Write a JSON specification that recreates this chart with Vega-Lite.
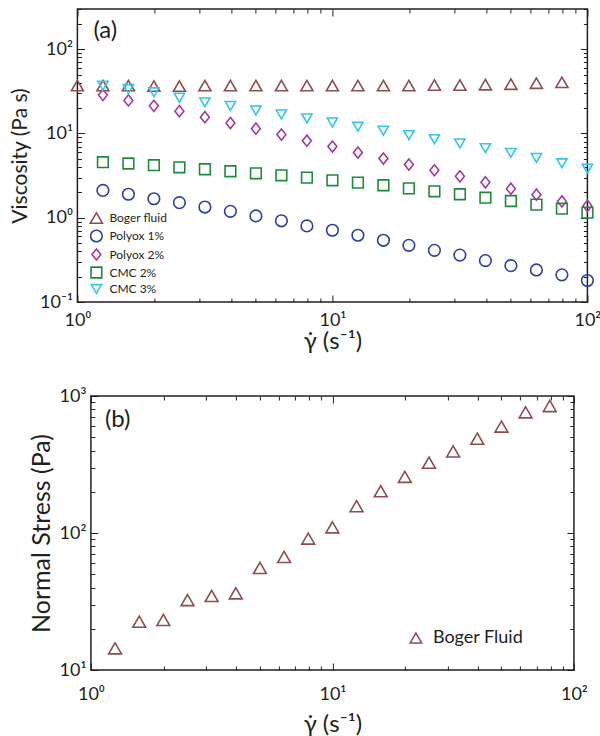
{
  "$schema": "https://vega.github.io/schema/vega-lite/v6.json",
  "padding": {"left": 8, "top": 7, "right": 0, "bottom": 0},
  "background": "white",
  "config": {
    "font": "Lato",
    "view": {"stroke": "#231f20", "strokeWidth": 1.5},
    "axis": {"grid": false, "domain": false, "labelColor": "#231f20", "titleColor": "#231f20", "tickColor": "#231f20", "labelFont": "Lato", "titleFont": "Lato", "titleFontWeight": "normal", "labelFontSize": 18, "tickWidth": 1, "labelOverlap": false, "labelFlush": false, "labelBound": false},
    "legend": {"labelColor": "#231f20", "labelFont": "Lato", "padding": 0},
    "title": {"color": "#231f20", "font": "Lato", "fontWeight": "normal"}
  },
  "resolve": {"scale": {"color": "independent", "shape": "independent", "size": "independent"}, "legend": {"color": "independent", "shape": "independent", "size": "independent"}},
  "vconcat": [
    {
      "width": 510,
      "height": 293,
      "title": {"text": "(a)", "anchor": "start", "frame": "group", "orient": "top", "offset": -34, "dx": 16, "fontSize": 24},
      "data": {"values": [
        {"fluid": "Boger fluid", "rate": 1, "visc": 37},
        {"fluid": "Boger fluid", "rate": 1.259, "visc": 37},
        {"fluid": "Boger fluid", "rate": 1.585, "visc": 37},
        {"fluid": "Boger fluid", "rate": 1.995, "visc": 36.5},
        {"fluid": "Boger fluid", "rate": 2.512, "visc": 36.5},
        {"fluid": "Boger fluid", "rate": 3.162, "visc": 37},
        {"fluid": "Boger fluid", "rate": 3.981, "visc": 37},
        {"fluid": "Boger fluid", "rate": 5.012, "visc": 37},
        {"fluid": "Boger fluid", "rate": 6.31, "visc": 37},
        {"fluid": "Boger fluid", "rate": 7.943, "visc": 37},
        {"fluid": "Boger fluid", "rate": 10, "visc": 37},
        {"fluid": "Boger fluid", "rate": 12.59, "visc": 37},
        {"fluid": "Boger fluid", "rate": 15.85, "visc": 37},
        {"fluid": "Boger fluid", "rate": 19.95, "visc": 37},
        {"fluid": "Boger fluid", "rate": 25.12, "visc": 37.5},
        {"fluid": "Boger fluid", "rate": 31.62, "visc": 37.5},
        {"fluid": "Boger fluid", "rate": 39.81, "visc": 38},
        {"fluid": "Boger fluid", "rate": 50.12, "visc": 38.5},
        {"fluid": "Boger fluid", "rate": 63.1, "visc": 39.5},
        {"fluid": "Boger fluid", "rate": 79.43, "visc": 40.5},
        {"fluid": "Polyox 1%", "rate": 1.259, "visc": 2.11},
        {"fluid": "Polyox 1%", "rate": 1.585, "visc": 1.9},
        {"fluid": "Polyox 1%", "rate": 1.995, "visc": 1.68},
        {"fluid": "Polyox 1%", "rate": 2.512, "visc": 1.51},
        {"fluid": "Polyox 1%", "rate": 3.162, "visc": 1.34},
        {"fluid": "Polyox 1%", "rate": 3.981, "visc": 1.19},
        {"fluid": "Polyox 1%", "rate": 5.012, "visc": 1.05},
        {"fluid": "Polyox 1%", "rate": 6.31, "visc": 0.92},
        {"fluid": "Polyox 1%", "rate": 7.943, "visc": 0.8},
        {"fluid": "Polyox 1%", "rate": 10, "visc": 0.71},
        {"fluid": "Polyox 1%", "rate": 12.59, "visc": 0.62},
        {"fluid": "Polyox 1%", "rate": 15.85, "visc": 0.54},
        {"fluid": "Polyox 1%", "rate": 19.95, "visc": 0.47},
        {"fluid": "Polyox 1%", "rate": 25.12, "visc": 0.41},
        {"fluid": "Polyox 1%", "rate": 31.62, "visc": 0.36},
        {"fluid": "Polyox 1%", "rate": 39.81, "visc": 0.31},
        {"fluid": "Polyox 1%", "rate": 50.12, "visc": 0.27},
        {"fluid": "Polyox 1%", "rate": 63.1, "visc": 0.24},
        {"fluid": "Polyox 1%", "rate": 79.43, "visc": 0.21},
        {"fluid": "Polyox 1%", "rate": 100, "visc": 0.18},
        {"fluid": "Polyox 2%", "rate": 1.259, "visc": 28.6},
        {"fluid": "Polyox 2%", "rate": 1.585, "visc": 24.7},
        {"fluid": "Polyox 2%", "rate": 1.995, "visc": 21.3},
        {"fluid": "Polyox 2%", "rate": 2.512, "visc": 18.4},
        {"fluid": "Polyox 2%", "rate": 3.162, "visc": 15.6},
        {"fluid": "Polyox 2%", "rate": 3.981, "visc": 13.3},
        {"fluid": "Polyox 2%", "rate": 5.012, "visc": 11.4},
        {"fluid": "Polyox 2%", "rate": 6.31, "visc": 9.7},
        {"fluid": "Polyox 2%", "rate": 7.943, "visc": 8.2},
        {"fluid": "Polyox 2%", "rate": 10, "visc": 7.0},
        {"fluid": "Polyox 2%", "rate": 12.59, "visc": 5.94},
        {"fluid": "Polyox 2%", "rate": 15.85, "visc": 5.04},
        {"fluid": "Polyox 2%", "rate": 19.95, "visc": 4.27},
        {"fluid": "Polyox 2%", "rate": 25.12, "visc": 3.66},
        {"fluid": "Polyox 2%", "rate": 31.62, "visc": 3.1},
        {"fluid": "Polyox 2%", "rate": 39.81, "visc": 2.63},
        {"fluid": "Polyox 2%", "rate": 50.12, "visc": 2.21},
        {"fluid": "Polyox 2%", "rate": 63.1, "visc": 1.88},
        {"fluid": "Polyox 2%", "rate": 79.43, "visc": 1.56},
        {"fluid": "Polyox 2%", "rate": 100, "visc": 1.38},
        {"fluid": "CMC 2%", "rate": 1.259, "visc": 4.56},
        {"fluid": "CMC 2%", "rate": 1.585, "visc": 4.4},
        {"fluid": "CMC 2%", "rate": 1.995, "visc": 4.2},
        {"fluid": "CMC 2%", "rate": 2.512, "visc": 3.97},
        {"fluid": "CMC 2%", "rate": 3.162, "visc": 3.76},
        {"fluid": "CMC 2%", "rate": 3.981, "visc": 3.56},
        {"fluid": "CMC 2%", "rate": 5.012, "visc": 3.37},
        {"fluid": "CMC 2%", "rate": 6.31, "visc": 3.19},
        {"fluid": "CMC 2%", "rate": 7.943, "visc": 2.99},
        {"fluid": "CMC 2%", "rate": 10, "visc": 2.78},
        {"fluid": "CMC 2%", "rate": 12.59, "visc": 2.61},
        {"fluid": "CMC 2%", "rate": 15.85, "visc": 2.43},
        {"fluid": "CMC 2%", "rate": 19.95, "visc": 2.23},
        {"fluid": "CMC 2%", "rate": 25.12, "visc": 2.06},
        {"fluid": "CMC 2%", "rate": 31.62, "visc": 1.9},
        {"fluid": "CMC 2%", "rate": 39.81, "visc": 1.73},
        {"fluid": "CMC 2%", "rate": 50.12, "visc": 1.58},
        {"fluid": "CMC 2%", "rate": 63.1, "visc": 1.43},
        {"fluid": "CMC 2%", "rate": 79.43, "visc": 1.28},
        {"fluid": "CMC 2%", "rate": 100, "visc": 1.15},
        {"fluid": "CMC 3%", "rate": 1.259, "visc": 36.9},
        {"fluid": "CMC 3%", "rate": 1.585, "visc": 33.7},
        {"fluid": "CMC 3%", "rate": 1.995, "visc": 30.8},
        {"fluid": "CMC 3%", "rate": 2.512, "visc": 26.6},
        {"fluid": "CMC 3%", "rate": 3.162, "visc": 23.4},
        {"fluid": "CMC 3%", "rate": 3.981, "visc": 21.2},
        {"fluid": "CMC 3%", "rate": 5.012, "visc": 18.8},
        {"fluid": "CMC 3%", "rate": 6.31, "visc": 16.8},
        {"fluid": "CMC 3%", "rate": 7.943, "visc": 15.1},
        {"fluid": "CMC 3%", "rate": 10, "visc": 13.5},
        {"fluid": "CMC 3%", "rate": 12.59, "visc": 12.0},
        {"fluid": "CMC 3%", "rate": 15.85, "visc": 10.8},
        {"fluid": "CMC 3%", "rate": 19.95, "visc": 9.55},
        {"fluid": "CMC 3%", "rate": 25.12, "visc": 8.57},
        {"fluid": "CMC 3%", "rate": 31.62, "visc": 7.61},
        {"fluid": "CMC 3%", "rate": 39.81, "visc": 6.69},
        {"fluid": "CMC 3%", "rate": 50.12, "visc": 5.89},
        {"fluid": "CMC 3%", "rate": 63.1, "visc": 5.13},
        {"fluid": "CMC 3%", "rate": 79.43, "visc": 4.43},
        {"fluid": "CMC 3%", "rate": 100, "visc": 3.83}
      ]},
      "layer": [
        {
          "mark": {"type": "point", "filled": false, "strokeWidth": 1.6, "opacity": 1},
          "encoding": {
            "x": {"field": "rate", "type": "quantitative",
              "scale": {"type": "log", "domain": [1, 100], "nice": false},
              "axis": {"orient": "bottom", "title": "γ̇ (s⁻¹)", "titleFontSize": 24, "titlePadding": 0,
                "values": [1, 10, 100], "offset": -7, "tickSize": 7, "labelPadding": 9,
                "labelExpr": "datum.value==1?'10⁰':datum.value==10?'10¹':'10²'"}},
            "y": {"field": "visc", "type": "quantitative",
              "scale": {"type": "log", "domain": [0.1, 300], "nice": false},
              "axis": {"orient": "left", "title": "Viscosity (Pa s)", "titleFontSize": 21, "titlePadding": 9,
                "values": [0.1, 1, 10, 100], "offset": -7, "tickSize": 7, "labelPadding": 5,
                "labelExpr": "datum.value==0.1?'10⁻¹':datum.value==1?'10⁰':datum.value==10?'10¹':'10²'"}},
            "color": {"field": "fluid", "type": "nominal",
              "scale": {"domain": ["Boger fluid", "Polyox 1%", "Polyox 2%", "CMC 2%", "CMC 3%"], "range": ["#8c4f4f", "#2e3f9c", "#a33a9c", "#1e8a3c", "#35c4ef"]},
              "legend": {"title": null, "orient": "none", "legendX": 12, "legendY": 202, "labelFontSize": 12, "rowPadding": -1, "symbolStrokeWidth": 1.6, "labelOffset": 6}},
            "shape": {"field": "fluid", "type": "nominal",
              "scale": {"domain": ["Boger fluid", "Polyox 1%", "Polyox 2%", "CMC 2%", "CMC 3%"], "range": ["triangle-up", "circle", "M-0.8,0L0,-1L0.8,0L0,1Z", "square", "triangle-down"]},
              "legend": {"title": null, "orient": "none", "legendX": 12, "legendY": 202, "labelFontSize": 12, "rowPadding": -1, "symbolStrokeWidth": 1.6, "labelOffset": 6}},
            "size": {"field": "fluid", "type": "nominal",
              "scale": {"domain": ["Boger fluid", "Polyox 1%", "Polyox 2%", "CMC 2%", "CMC 3%"], "range": [145, 104, 160, 72, 190]},
              "legend": {"title": null, "orient": "none", "legendX": 12, "legendY": 202, "labelFontSize": 12, "rowPadding": -1, "symbolStrokeWidth": 1.6, "labelOffset": 6}}
          }
        },
        {
          "mark": {"type": "point", "opacity": 0},
          "encoding": {
            "x": {"field": "rate", "type": "quantitative",
              "axis": {"orient": "top", "title": null, "labels": false, "values": [1, 10, 100], "offset": -7, "tickSize": 7}},
            "y": {"field": "visc", "type": "quantitative",
              "axis": {"orient": "right", "title": null, "labels": false, "values": [0.1, 1, 10, 100], "offset": -7, "tickSize": 7}}
          }
        },
        {
          "mark": {"type": "point", "opacity": 0},
          "encoding": {
            "x": {"field": "rate", "type": "quantitative",
              "axis": {"orient": "bottom", "title": null, "labels": false, "values": [2,3,4,5,6,7,8,9,20,30,40,50,60,70,80,90], "offset": -4, "tickSize": 4}},
            "y": {"field": "visc", "type": "quantitative",
              "axis": {"orient": "left", "title": null, "labels": false, "values": [0.2,0.3,0.4,0.5,0.6,0.7,0.8,0.9,2,3,4,5,6,7,8,9,20,30,40,50,60,70,80,90,200,300], "offset": -4, "tickSize": 4}}
          }
        },
        {
          "mark": {"type": "point", "opacity": 0},
          "encoding": {
            "x": {"field": "rate", "type": "quantitative",
              "axis": {"orient": "top", "title": null, "labels": false, "values": [2,3,4,5,6,7,8,9,20,30,40,50,60,70,80,90], "offset": -4, "tickSize": 4}},
            "y": {"field": "visc", "type": "quantitative",
              "axis": {"orient": "right", "title": null, "labels": false, "values": [0.2,0.3,0.4,0.5,0.6,0.7,0.8,0.9,2,3,4,5,6,7,8,9,20,30,40,50,60,70,80,90,200,300], "offset": -4, "tickSize": 4}}
          }
        }
      ],
      "resolve": {"axis": {"x": "independent", "y": "independent"}}
    },
    {
      "width": 483,
      "height": 274,
      "title": {"text": "(b)", "anchor": "start", "frame": "group", "orient": "top", "offset": -45, "dx": 14, "fontSize": 24},
      "data": {"values": [
        {"fluid": "Boger Fluid", "rate": 1.259, "stress": 14.4},
        {"fluid": "Boger Fluid", "rate": 1.585, "stress": 22.5},
        {"fluid": "Boger Fluid", "rate": 1.995, "stress": 23.2},
        {"fluid": "Boger Fluid", "rate": 2.512, "stress": 32.4},
        {"fluid": "Boger Fluid", "rate": 3.162, "stress": 34.7},
        {"fluid": "Boger Fluid", "rate": 3.981, "stress": 36.3},
        {"fluid": "Boger Fluid", "rate": 5.012, "stress": 55.6},
        {"fluid": "Boger Fluid", "rate": 6.31, "stress": 66.9},
        {"fluid": "Boger Fluid", "rate": 7.943, "stress": 91},
        {"fluid": "Boger Fluid", "rate": 10, "stress": 110},
        {"fluid": "Boger Fluid", "rate": 12.59, "stress": 157},
        {"fluid": "Boger Fluid", "rate": 15.85, "stress": 202},
        {"fluid": "Boger Fluid", "rate": 19.95, "stress": 257},
        {"fluid": "Boger Fluid", "rate": 25.12, "stress": 326},
        {"fluid": "Boger Fluid", "rate": 31.62, "stress": 394},
        {"fluid": "Boger Fluid", "rate": 39.81, "stress": 488},
        {"fluid": "Boger Fluid", "rate": 50.12, "stress": 598},
        {"fluid": "Boger Fluid", "rate": 63.1, "stress": 760},
        {"fluid": "Boger Fluid", "rate": 79.43, "stress": 845}
      ]},
      "layer": [
        {
          "mark": {"type": "point", "filled": false, "strokeWidth": 1.6, "opacity": 1, "shape": "triangle-up", "size": 165},
          "encoding": {
            "x": {"field": "rate", "type": "quantitative",
              "scale": {"type": "log", "domain": [1, 100], "nice": false},
              "axis": {"orient": "bottom", "title": "γ̇ (s⁻¹)", "titleFontSize": 24, "titlePadding": 9,
                "values": [1, 10, 100], "offset": -7, "tickSize": 7, "labelPadding": 15,
                "labelExpr": "datum.value==1?'10⁰':datum.value==10?'10¹':'10²'"}},
            "y": {"field": "stress", "type": "quantitative",
              "scale": {"type": "log", "domain": [10, 1000], "nice": false},
              "axis": {"orient": "left", "title": "Normal Stress (Pa)", "titleFontSize": 25, "titlePadding": 5,
                "values": [10, 100, 1000], "offset": -7, "tickSize": 7, "labelPadding": 5,
                "labelExpr": "datum.value==10?'10¹':datum.value==100?'10²':'10³'"}},
            "color": {"field": "fluid", "type": "nominal",
              "scale": {"domain": ["Boger Fluid"], "range": ["#8c4f4f"]},
              "legend": {"title": null, "orient": "none", "legendX": 316, "legendY": 233, "labelFontSize": 18, "symbolType": "triangle-up", "symbolSize": 130, "symbolStrokeWidth": 1.6, "symbolFillColor": "transparent", "labelOffset": 8}}
          }
        },
        {
          "mark": {"type": "point", "opacity": 0},
          "encoding": {
            "x": {"field": "rate", "type": "quantitative",
              "axis": {"orient": "top", "title": null, "labels": false, "values": [1, 10, 100], "offset": -7, "tickSize": 7}},
            "y": {"field": "stress", "type": "quantitative",
              "axis": {"orient": "right", "title": null, "labels": false, "values": [10, 100, 1000], "offset": -7, "tickSize": 7}}
          }
        },
        {
          "mark": {"type": "point", "opacity": 0},
          "encoding": {
            "x": {"field": "rate", "type": "quantitative",
              "axis": {"orient": "bottom", "title": null, "labels": false, "values": [2,3,4,5,6,7,8,9,20,30,40,50,60,70,80,90], "offset": -4, "tickSize": 4}},
            "y": {"field": "stress", "type": "quantitative",
              "axis": {"orient": "left", "title": null, "labels": false, "values": [20,30,40,50,60,70,80,90,200,300,400,500,600,700,800,900], "offset": -4, "tickSize": 4}}
          }
        },
        {
          "mark": {"type": "point", "opacity": 0},
          "encoding": {
            "x": {"field": "rate", "type": "quantitative",
              "axis": {"orient": "top", "title": null, "labels": false, "values": [2,3,4,5,6,7,8,9,20,30,40,50,60,70,80,90], "offset": -4, "tickSize": 4}},
            "y": {"field": "stress", "type": "quantitative",
              "axis": {"orient": "right", "title": null, "labels": false, "values": [20,30,40,50,60,70,80,90,200,300,400,500,600,700,800,900], "offset": -4, "tickSize": 4}}
          }
        }
      ],
      "resolve": {"axis": {"x": "independent", "y": "independent"}}
    }
  ],
  "spacing": 32,
  "center": true
}
